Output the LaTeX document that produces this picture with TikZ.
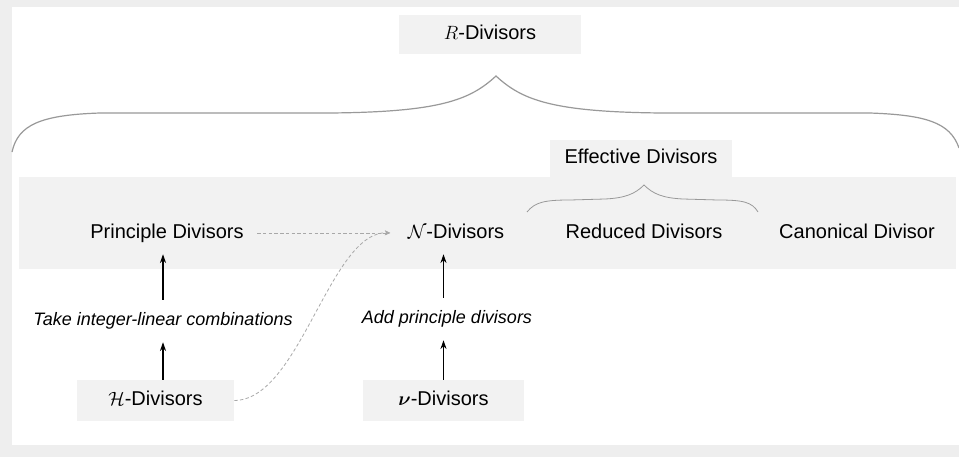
\documentclass[tikz,border=0pt]{standalone}
\usepackage{amsmath}
\usepackage{fontspec}
\setmainfont{Liberation Sans}
\usetikzlibrary{arrows.meta}
\definecolor{bandgray}{HTML}{F2F2F2}
\definecolor{framegray}{HTML}{EEEEEE}
\definecolor{bracegray}{HTML}{999999}
\definecolor{dashgray}{HTML}{A8A8A8}
\tikzset{
  rowtext/.style={font=\fontsize{15}{18}\selectfont, text height=11pt, text depth=3.5pt, inner xsep=10pt, inner ysep=8.5pt},
  steplabel/.style={font=\fontsize{13.5}{16}\selectfont\itshape, text height=10pt, text depth=3.5pt, inner xsep=4pt, inner ysep=9pt},
  graybox/.style={fill=bandgray, font=\fontsize{15}{18}\selectfont, text height=11pt, text depth=3.5pt, inner sep=0pt},
  solidarrow/.style={black, line width=0.9pt, -{Stealth[length=6.5pt,width=4.5pt]}},
  dasharrow/.style={dashgray, line width=0.6pt, dash pattern=on 2.5pt off 1.8pt, -{Stealth[length=4pt,width=3.5pt]}},
  bracepath/.style={bracegray, line width=0.9pt},
  smallbrace/.style={bracegray, line width=0.6pt}
}
\begin{document}
\begin{tikzpicture}[x=0.75pt,y=-0.75pt]
\useasboundingbox (0,0) rectangle (959,457);
% frame
\fill[framegray] (0,0) rectangle (959,457);
\fill[white] (12,7) rectangle (959,445);
% band
\fill[bandgray] (19,177) rectangle (956,269);
% top box
\node[graybox, minimum width=136.5pt, minimum height=29.25pt] (rdiv) at (490,34.5) {$R$-Divisors};
% big brace
\draw[bracepath] (12,152) .. controls (18,125) and (40,115) .. (100,113)
  -- (330,113) .. controls (440,112) and (470,100) .. (496,76)
  .. controls (522,100) and (552,112) .. (662,113)
  -- (870,113) .. controls (925,115) and (950,122) .. (959,148);
% effective divisors
\node[graybox, minimum width=136.5pt, minimum height=27.75pt] (eff) at (641,158.5) {Effective Divisors};
\draw[smallbrace] (527,212) .. controls (535,202) and (545,200) .. (570,200)
  -- (605,199) .. controls (625,198) and (635,194) .. (644,185)
  .. controls (653,194) and (663,198) .. (683,199)
  -- (718,200) .. controls (743,200) and (752,202) .. (758,212);
% row nodes
\node[rowtext] (princ) at (167,233) {Principle Divisors};
\node[rowtext] (ndiv) at (456,233) {$\mathcal{N}$-Divisors};
\node[rowtext] (red) at (644,233) {Reduced Divisors};
\node[rowtext] (canon) at (857,233) {Canonical Divisor};
% step labels
\node[steplabel] (take) at (163,321) {Take integer-linear combinations};
\node[steplabel] (add) at (447,319) {Add principle divisors};
% bottom boxes
\node[graybox, minimum width=117.75pt, minimum height=30.75pt] (hdiv) at (155.5,400.5) {$\mathcal{H}$-Divisors};
\node[graybox, minimum width=120.75pt, minimum height=30.75pt] (nu) at (443.5,400.5) {$\boldsymbol{\nu}$-Divisors};
% solid arrows
\draw[solidarrow] (take.north) -- (take.north |- princ.south);
\draw[solidarrow] (take.south |- hdiv.north) -- (take.south);
\draw[solidarrow] (nu.north) -- (nu.north |- add.south);
\draw[solidarrow] (nu.north |- add.north) -- (nu.north |- ndiv.south);
% dashed arrows
\draw[dasharrow, shorten >=3pt] (princ.east) -- (ndiv.west);
\draw[dasharrow, shorten >=3pt] (hdiv.east) .. controls (300,400) and (330,231) .. (ndiv.west);
\end{tikzpicture}
\end{document}
